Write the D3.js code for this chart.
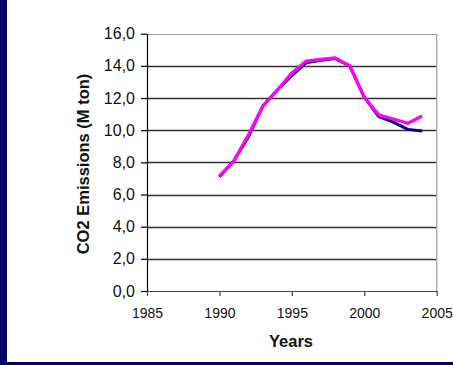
<!DOCTYPE html>
<html>
<head>
<meta charset="utf-8">
<script src="https://cdn.jsdelivr.net/npm/d3@7"></script>
<style>
  html, body { margin: 0; padding: 0; background: #fff; }
  svg { display: block; }
</style>
</head>
<body>
<svg id="chart" width="453" height="365"></svg>
<script>
// Annual CO2 emissions (M ton), two series
const years = [1990, 1991, 1992, 1993, 1994, 1995, 1996, 1997, 1998, 1999, 2000, 2001, 2002, 2003, 2004];
const seriesNavy    = [7.1, 8.1, 9.6, 11.5, 12.5, 13.4, 14.2, 14.35, 14.45, 14.0, 12.05, 10.85, 10.5, 10.05, 9.95];
const seriesMagenta = [7.15, 8.1, 9.7, 11.5, 12.5, 13.55, 14.3, 14.4, 14.5, 14.0, 12.05, 10.95, 10.7, 10.43, 10.88];
const yTicks = [0, 2, 4, 6, 8, 10, 12, 14, 16];
const xTicks = [1985, 1990, 1995, 2000, 2005];

const svg = d3.select("#chart");
const font = "Liberation Sans, Arial, sans-serif";

// frame bands
svg.append("rect").attr("x", 0).attr("y", 0).attr("width", 7).attr("height", 365).attr("fill", "#020266");
svg.append("rect").attr("x", 0).attr("y", 362).attr("width", 453).attr("height", 3).attr("fill", "#020266");

const plotL = 147, plotR = 436.7, plotT = 33.7, plotB = 291;
const x = d3.scaleLinear().domain([1985, 2005]).range([plotL, plotR]);
const y = d3.scaleLinear().domain([0, 16]).range([plotB, plotT]);

const fmt = v => d3.format(".1f")(v).replace(".", ",");

// horizontal gridlines
svg.append("g").selectAll("line").data(yTicks.filter(t => t > 0 && t < 16)).join("line")
  .attr("x1", plotL).attr("x2", plotR)
  .attr("y1", d => Math.round(y(d)) + 0.5).attr("y2", d => Math.round(y(d)) + 0.5)
  .attr("stroke", "#333").attr("stroke-width", 1.3);

// top and right plot border
svg.append("line").attr("x1", plotL).attr("x2", plotR)
  .attr("y1", Math.round(plotT) + 0.5).attr("y2", Math.round(plotT) + 0.5)
  .attr("stroke", "#a0a0a0").attr("stroke-width", 1.2);
svg.append("line").attr("x1", plotR).attr("x2", plotR)
  .attr("y1", plotT).attr("y2", plotB)
  .attr("stroke", "#a0a0a0").attr("stroke-width", 1.2);

// y axis
const yAxis = d3.axisLeft(y).tickValues(yTicks).tickFormat(fmt).tickSizeInner(6).tickSizeOuter(0).tickPadding(6);
const gy = svg.append("g").attr("transform", `translate(${plotL},0)`).call(yAxis);
gy.select(".domain").attr("stroke", "#000").attr("stroke-width", 1.2);
gy.selectAll(".tick line").attr("stroke", "#000").attr("stroke-width", 1.2);
gy.selectAll("text").attr("font-family", font).attr("font-size", 16).attr("fill", "#111");

// x axis
const xAxis = d3.axisBottom(x).tickValues(xTicks).tickFormat(d3.format("d")).tickSizeInner(5).tickSizeOuter(0).tickPadding(12);
const gx = svg.append("g").attr("transform", `translate(0,${plotB})`).call(xAxis);
gx.select(".domain").attr("stroke", "#444").attr("stroke-width", 1.2);
gx.selectAll(".tick line").attr("stroke", "#444").attr("stroke-width", 1.2);
gx.selectAll("text").attr("font-family", font).attr("font-size", 14).attr("fill", "#111");

// axis titles
svg.append("text").attr("x", 291).attr("y", 347)
  .attr("text-anchor", "middle")
  .attr("font-family", font).attr("font-size", 16.5).attr("font-weight", "bold")
  .attr("fill", "#111").text("Years");
svg.append("text")
  .attr("transform", "translate(88.5,164) rotate(-90)")
  .attr("text-anchor", "middle")
  .attr("font-family", font).attr("font-size", 16.5).attr("font-weight", "bold")
  .attr("fill", "#111").text("CO2 Emissions (M ton)");

// series lines
const line = vals => d3.line().x((d, i) => x(years[i])).y(d => y(d))(vals);
svg.append("path").attr("d", line(seriesNavy))
  .attr("fill", "none").attr("stroke", "#000080").attr("stroke-width", 3)
  .attr("stroke-linejoin", "round");
svg.append("path").attr("d", line(seriesMagenta))
  .attr("fill", "none").attr("stroke", "#ff00ff").attr("stroke-width", 3.2)
  .attr("stroke-linejoin", "round");
</script>
</body>
</html>
